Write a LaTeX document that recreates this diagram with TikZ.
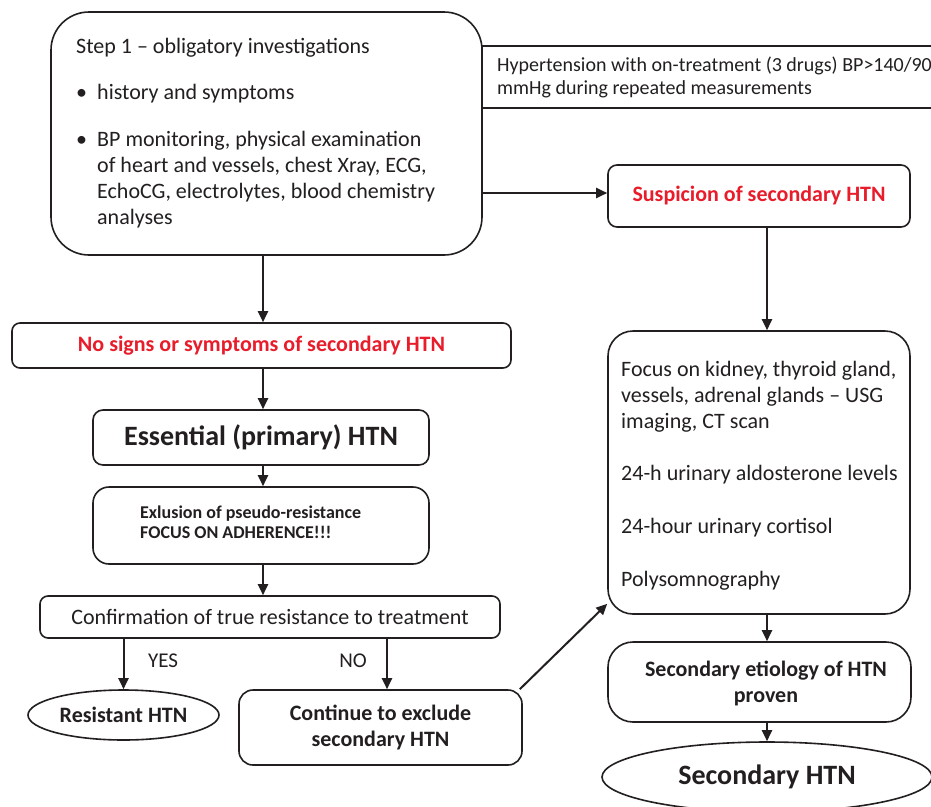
\documentclass[tikz,border=0pt]{standalone}
\usepackage{fontspec}
\setmainfont{Carlito}
\usetikzlibrary{arrows.meta,shapes.geometric}
\definecolor{htnred}{RGB}{232,28,42}
\definecolor{ink}{RGB}{35,31,32}
\begin{document}
\begin{tikzpicture}[x=1pt,y=-1pt,
  every node/.style={text=ink},
  box/.style={draw=ink,line width=1.6pt,rounded corners=#1,inner sep=0pt,align=center},
  oval/.style={draw=ink,line width=1.6pt,ellipse,inner sep=0pt,align=center},
  arr/.style={draw=ink,line width=2pt,-{Triangle[length=11pt,width=10pt]}},
  txt/.style={anchor=base west,inner sep=0pt,font=\fontsize{22}{26}\selectfont},
  bodyf/.style={font=\fontsize{22}{26}\selectfont},
  boldf/.style={font=\fontsize{22}{26}\selectfont\bfseries},
  redf/.style={font=\fontsize{22}{26}\selectfont\bfseries,text=htnred}]
\useasboundingbox (0,0) rectangle (931,806);
\fill[white] (0,0) rectangle (931,806);
\coordinate (lx) at (263,0);
\coordinate (rx) at (767,0);
\coordinate (nx) at (387,0);
\coordinate (ay) at (0,193);

% Step 1 box
\node[box=38pt,minimum width=431pt,minimum height=243pt] (step1) at (266.5,133.5) {};
\node[txt] (s1a) at (76,53) {Step 1 – obligatory investigations};
\node[txt] (b1) at (76,99) {•};
\node[txt] (s1b) at (97,99) {history and symptoms};
\node[txt] (b2) at (76,146) {•};
\node[txt] (s1c) at (97,146) {BP monitoring, physical examination};
\node[txt] (s1d) at (97,172) {of heart and vessels, chest Xray, ECG,};
\node[txt] (s1e) at (97,198) {EchoCG, electrolytes, blood chemistry};
\node[txt] (s1f) at (97,224) {analyses};

% Hypertension box (open to the right)
\node[draw=ink,line width=1.6pt,minimum width=463pt,minimum height=62pt,inner sep=0pt] (hyp) at (713.5,77) {};
\node[txt,font=\fontsize{20}{20}\selectfont] (hypa) at (497,71) {Hypertension with on-treatment (3 drugs) BP>140/90};
\node[txt,font=\fontsize{20}{20}\selectfont] (hypb) at (497,94) {mmHg during repeated measurements};

% Suspicion
\node[box=9pt,minimum width=302pt,minimum height=62pt,redf] (susp) at (759,196) {Suspicion of secondary HTN};

% Focus box
\node[box=25pt,minimum width=302pt,minimum height=283pt] (focus) at (759,472.5) {};
\node[txt] (f1) at (621,376) {Focus on kidney, thyroid gland,};
\node[txt] (f2) at (621,402) {vessels, adrenal glands – USG};
\node[txt] (f3) at (621,428) {imaging, CT scan};
\node[txt] (f4) at (621,480) {24-h urinary aldosterone levels};
\node[txt] (f5) at (621,533) {24-hour urinary cortisol};
\node[txt] (f6) at (621,586) {Polysomnography};

% Secondary etiology
\node[box=25pt,minimum width=303pt,minimum height=80pt] (secetio) at (759.5,682) {};
\node[boldf,align=center,inner sep=0pt] (secetiot) at (766,683) {Secondary etiology of HTN\\proven};

% Secondary HTN
\node[oval,minimum width=330pt,minimum height=70pt,font=\fontsize{28}{30}\selectfont\bfseries] (sechtn) at (767,777) {Secondary HTN};

% Left column
\node[box=8pt,minimum width=499pt,minimum height=45pt,redf] (nosigns) at (261.5,345.5) {No signs or symptoms of secondary HTN};
\node[box=10pt,minimum width=336pt,minimum height=55pt,font=\fontsize{28}{30}\selectfont\bfseries] (essential) at (261,437.5) {Essential (primary) HTN};
\node[box=16pt,minimum width=336pt,minimum height=77pt] (exclusion) at (261,525.5) {};
\node[txt,font=\fontsize{18}{20}\selectfont\bfseries] (exa) at (140,518) {Exlusion of pseudo-resistance};
\node[txt,font=\fontsize{18}{20}\selectfont\bfseries] (exb) at (140,538) {FOCUS ON ADHERENCE!!!};
\node[box=8pt,minimum width=460pt,minimum height=42pt,bodyf] (conf) at (270,617) {Confirmation of true resistance to treatment};
\node[oval,minimum width=191pt,minimum height=50pt,boldf] (resist) at (123.5,715) {Resistant HTN};
\node[box=14pt,minimum width=283pt,minimum height=75pt,boldf] (cont) at (380.5,727.5) {Continue to exclude\\secondary HTN};
\node[font=\fontsize{21}{22}\selectfont,inner sep=0pt] (yes) at (163,661) {YES};
\node[font=\fontsize{21}{22}\selectfont,inner sep=0pt] (no) at (353,661) {NO};

% Connectors
\draw[arr] (step1.east |- ay) -- (susp.west |- ay);
\draw[arr] (susp.south -| rx) -- (focus.north -| rx);
\draw[arr] (step1.south -| lx) -- (nosigns.north -| lx);
\draw[arr] (nosigns.south -| lx) -- (essential.north -| lx);
\draw[arr] (essential.south -| lx) -- (exclusion.north -| lx);
\draw[arr] (exclusion.south -| lx) -- (conf.north -| lx);
\draw[arr] (conf.south -| resist.north) -- (resist.north);
\draw[arr] (conf.south -| nx) -- (cont.north -| nx);
\draw[arr] ([xshift=-3pt]cont.north east) -- ([yshift=11pt]focus.south west);
\draw[arr] (focus.south -| rx) -- (secetio.north -| rx);
\draw[arr] (secetio.south -| rx) -- (sechtn.north -| rx);
\end{tikzpicture}
\end{document}
